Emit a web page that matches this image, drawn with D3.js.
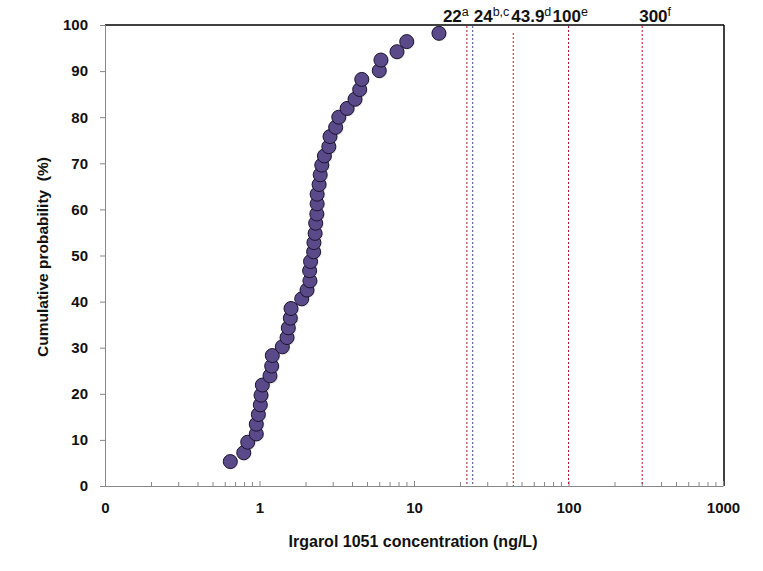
<!DOCTYPE html>
<html><head><meta charset="utf-8">
<script src="https://cdn.jsdelivr.net/npm/d3@7"></script>
<style>
html,body{margin:0;padding:0;background:#fff;}
svg{display:block;font-family:"Liberation Sans",Arial,sans-serif;}
</style></head>
<body>
<svg id="chart" width="763" height="571"></svg>
<script>
// Irgarol 1051 concentrations (ng/L)
const concentrations = [0.647,0.791,0.839,0.953,0.953,0.983,1.012,1.023,1.043,1.169,1.199,1.21,1.405,1.507,1.536,1.583,1.599,1.876,2.03,2.12,2.11,2.14,2.24,2.25,2.29,2.31,2.35,2.36,2.36,2.43,2.47,2.53,2.63,2.81,2.86,3.11,3.26,3.69,4.15,4.45,4.59,5.96,6.11,7.76,8.97,14.5];
// Cumulative probability (%)
const cumulativeProb = [5.3,7.2,9.5,11.3,13.4,15.5,17.6,19.7,21.9,23.9,26.0,28.3,30.2,32.2,34.3,36.4,38.5,40.6,42.5,44.5,46.7,48.7,50.8,52.8,54.8,57.0,59.0,61.2,63.3,65.4,67.5,69.6,71.6,73.6,75.8,77.8,80.0,81.9,83.9,86.0,88.2,90.1,92.4,94.2,96.4,98.2];
// Guideline / threshold values (ng/L) and their superscript notes
const thresholdValues = [22, 24, 43.9, 100, 300];
const thresholdNames = ["22", "24", "43.9", "100", "300"];
const thresholdNotes = ["a", "b,c", "d", "e", "f"];
// Axis tick labels
const xTickValues = [0.1, 1, 10, 100, 1000];
const xTickLabels = ["0", "1", "10", "100", "1000"];
const yTickValues = [0,10,20,30,40,50,60,70,80,90,100];

// layout (not data)
const labelDx = [-24, 1, -2, -16, -3];
const lineTop = [26, 26, 33, 26, 26];

const svg = d3.select("#chart");
const L = 105, R = 723, T = 25, B = 486;
const x = d3.scaleLog().domain([0.1, 1000]).range([L, R]);
const y = d3.scaleLinear().domain([0, 100]).range([B, T]);

// frame: top + right black
svg.append("line").attr("x1", L).attr("x2", R + 1).attr("y1", T).attr("y2", T)
  .attr("stroke", "#000").attr("stroke-width", 1.5);
svg.append("line").attr("x1", R + 1).attr("x2", R + 1).attr("y1", T).attr("y2", B)
  .attr("stroke", "#000").attr("stroke-width", 1.5);

// Y axis
const yAxis = d3.axisLeft(y).tickValues(yTickValues).tickSize(5).tickPadding(12).tickFormat(d3.format("d"));
const gy = svg.append("g").attr("transform", `translate(${L},0)`).call(yAxis);
gy.select(".domain").attr("stroke", "#888");
gy.selectAll(".tick line").attr("stroke", "#888");
gy.selectAll("text").attr("font-size", 15).attr("font-weight", "bold").attr("fill", "#111")
  .attr("font-family", "'Liberation Sans',Arial,sans-serif");

// X axis minor ticks (inside, pointing up)
const minor = [];
for (let p = -1; p < 3; p++) for (let k = 2; k <= 9; k++) minor.push(k * Math.pow(10, p));
svg.append("g").selectAll("line").data(minor).join("line")
  .attr("x1", d => x(d)).attr("x2", d => x(d)).attr("y1", B).attr("y2", B - 4)
  .attr("stroke", "#888");

const xAxis = d3.axisBottom(x).tickValues(xTickValues).tickSizeInner(-5).tickSizeOuter(0).tickPadding(16)
  .tickFormat(d => xTickLabels[xTickValues.indexOf(d)]);
const gx = svg.append("g").attr("transform", `translate(0,${B})`).call(xAxis);
gx.select(".domain").attr("stroke", "#888");
gx.selectAll(".tick line").attr("stroke", "#888");
gx.selectAll("text").attr("font-size", 15).attr("font-weight", "bold").attr("fill", "#111")
  .attr("font-family", "'Liberation Sans',Arial,sans-serif");

// Threshold lines
thresholdValues.forEach((v, i) => {
  svg.append("line").attr("x1", x(v)).attr("x2", x(v)).attr("y1", lineTop[i]).attr("y2", B)
    .attr("stroke", i === 1 ? "#4a3c9c" : "#c0102a").attr("stroke-width", 1)
    .attr("stroke-dasharray", "2,2");
  const t = svg.append("text").attr("x", x(v) + labelDx[i]).attr("y", 22)
    .attr("font-size", 17).attr("font-weight", "bold").attr("fill", "#111");
  t.append("tspan").text(thresholdNames[i]);
  t.append("tspan").attr("dy", -6).attr("font-size", 12.5).attr("font-weight", "normal").text(thresholdNotes[i]);
});

// Points
const pts = concentrations.map((c, i) => ({c, p: cumulativeProb[i]}));
svg.append("g").selectAll("circle").data(pts).join("circle")
  .attr("cx", d => x(d.c) + 1).attr("cy", d => y(d.p) + 1).attr("r", 7)
  .attr("fill", "#bbb").attr("opacity", 0.5);
svg.append("g").selectAll("circle").data(pts).join("circle")
  .attr("cx", d => x(d.c)).attr("cy", d => y(d.p)).attr("r", 7)
  .attr("fill", "#5a4a8a").attr("stroke", "#1c1430").attr("stroke-width", 1);

// Axis titles
svg.append("text").attr("x", 413).attr("y", 547).attr("text-anchor", "middle")
  .attr("font-size", 16).attr("font-weight", "bold").attr("fill", "#111")
  .text("Irgarol 1051 concentration (ng/L)");
svg.append("text").attr("transform", "translate(48,257) rotate(-90)").attr("text-anchor", "middle")
  .attr("font-size", 15.5).attr("fill", "#111").attr("font-weight", "600")
  .attr("xml:space", "preserve").style("white-space", "pre")
  .text("Cumulative probability  (%)");
</script>
</body></html>
